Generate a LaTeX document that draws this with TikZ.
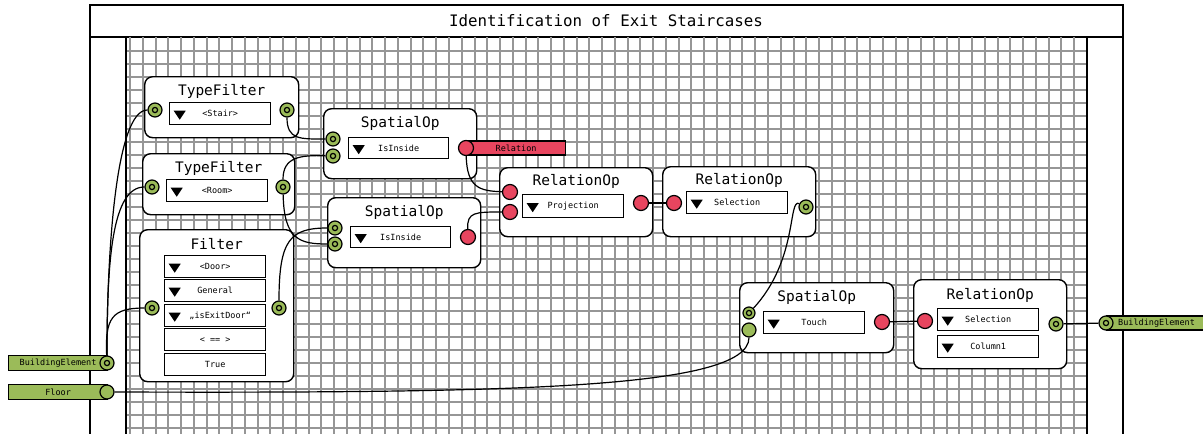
\documentclass[tikz,border=0pt]{standalone}
\usepackage{fontspec}
\setmonofont{DejaVu Sans Mono}
\usetikzlibrary{calc}
\definecolor{portgreen}{RGB}{155,187,89}
\definecolor{portred}{RGB}{232,69,95}
\definecolor{gridgray}{RGB}{150,150,150}
\pgfdeclarelayer{bg}
\pgfdeclarelayer{fg}
\pgfsetlayers{bg,main,fg}

\tikzset{
  opbox/.style={draw, line width=1.4pt, rounded corners=8pt, fill=white,
    anchor=north west, inner sep=0pt},
  optitle/.style={font=\ttfamily\fontsize{14.5}{16}\selectfont, inner sep=0pt},
  smalltext/.style={font=\ttfamily\fontsize{8.5}{10}\selectfont},
  field/.style={draw, line width=1.4pt, fill=white, anchor=north west,
    minimum width=101pt, minimum height=22pt, inner sep=0pt, smalltext},
  choice/.style={field, path picture={
      \fill[black] ([xshift=4pt,yshift=3pt]path picture bounding box.west)
        -- ++(12pt,0pt) -- ++(-6pt,-9pt) -- cycle;}},
  port/.style={circle, draw, line width=1.2pt, inner sep=0pt, minimum size=14pt},
  gport/.style={port, fill=portgreen},
  rport/.style={port, fill=portred, minimum size=15pt},
  ringport/.style={gport, path picture={
      \draw[black, line width=1.2pt] (path picture bounding box.center) circle (2.6pt);}},
  gbar/.style={draw, line width=1.2pt, fill=portgreen, inner sep=0pt, smalltext},
  rbar/.style={draw, line width=1.2pt, fill=portred, inner sep=0pt, smalltext},
  wire/.style={line width=1.2pt},
  gridline/.style={gridgray, line width=2pt},
}

\begin{document}
\begin{tikzpicture}[x=1pt,y=-1pt]
\useasboundingbox (0,0) rectangle (1203,434);

\begin{pgfonlayer}{bg}
  \fill[white] (0,0) rectangle (1203,434);
  % worksheet frame and title bar
  \draw[line width=1.4pt] (90,434) -- (90,5) -- (1123,5) -- (1123,434);
  \draw[line width=1.4pt] (90,37) -- (1123,37);
  \node[font=\ttfamily\fontsize{15.8}{18}\selectfont, inner sep=0pt] (title)
    at (606,21) {Identification of Exit Staircases};
  % canvas grid
  \foreach \k in {0,...,74}
    \draw[gridline] ({130+12.76*\k},37) -- ({130+12.76*\k},434);
  \foreach \j in {0,...,29}
    \draw[gridline] (126,{51.3+13*\j}) -- (1087,{51.3+13*\j});
  \draw[line width=2pt] (126,37) -- (126,434);
  \draw[line width=2pt] (1087,37) -- (1087,434);

  % TypeFilter <Stair>
  \node[opbox, minimum width=154pt, minimum height=61pt] (tf1) at (144,76) {};
  \node[optitle] (tf1t) at ([yshift=-15pt]tf1.north) {TypeFilter};
  \node[choice] (tf1c) at (169,102) {<Stair>};

  % TypeFilter <Room>
  \node[opbox, minimum width=152pt, minimum height=61pt] (tf2) at (142,153) {};
  \node[optitle] (tf2t) at ([yshift=-15pt]tf2.north) {TypeFilter};
  \node[choice] (tf2c) at (166,179) {<Room>};

  % Filter
  \node[opbox, minimum width=154pt, minimum height=152pt] (flt) at (139,229) {};
  \node[optitle] (fltt) at ([yshift=-15pt]flt.north) {Filter};
  \node[choice] (flt1) at (164,255) {<Door>};
  \node[choice] (flt2) at (164,279) {General};
  \node[choice] (flt3) at (164,304) {\hspace{10pt}„isExitDoor“};
  \node[field]  (flt4) at (164,328) {< == >};
  \node[field]  (flt5) at (164,353) {True};

  % SpatialOp IsInside (stairs in rooms)
  \node[opbox, minimum width=153pt, minimum height=70pt] (sp1) at (323,108) {};
  \node[optitle] (sp1t) at ([yshift=-15pt]sp1.north) {SpatialOp};
  \node[choice, minimum width=100pt, minimum height=21pt] (sp1c) at (348,137) {IsInside};

  % SpatialOp IsInside (doors in rooms)
  \node[opbox, minimum width=153pt, minimum height=70pt] (sp2) at (327,197) {};
  \node[optitle] (sp2t) at ([yshift=-15pt]sp2.north) {SpatialOp};
  \node[choice, minimum width=100pt, minimum height=21pt] (sp2c) at (350,226) {IsInside};

  % RelationOp Projection
  \node[opbox, minimum width=153pt, minimum height=69pt] (ro1) at (499,167) {};
  \node[optitle] (ro1t) at ([yshift=-14pt]ro1.north) {RelationOp};
  \node[choice, minimum height=23pt] (ro1c) at (522,194) {Projection};

  % RelationOp Selection
  \node[opbox, minimum width=153pt, minimum height=70pt] (ro2) at (662,166) {};
  \node[optitle] (ro2t) at ([yshift=-14pt]ro2.north) {RelationOp};
  \node[choice] (ro2c) at (686,191) {Selection};

  % SpatialOp Touch
  \node[opbox, minimum width=154pt, minimum height=70pt] (sp3) at (739,282) {};
  \node[optitle] (sp3t) at ([yshift=-15pt]sp3.north) {SpatialOp};
  \node[choice] (sp3c) at (763,311) {Touch};

  % RelationOp Selection / Column1
  \node[opbox, minimum width=153pt, minimum height=89pt] (ro3) at (913,279) {};
  \node[optitle] (ro3t) at ([yshift=-16pt]ro3.north) {RelationOp};
  \node[choice] (ro3c1) at (937,308) {Selection};
  \node[choice] (ro3c2) at (937,335) {Column1};

  % inputs, intermediate relation and output
  \node[gbar, anchor=west, minimum width=99pt, minimum height=15pt] (bebar) at (8,363) {BuildingElement};
  \node[gbar, anchor=west, minimum width=99pt, minimum height=15pt] (flbar) at (8,392) {Floor};
  \node[rbar, anchor=west, minimum width=99pt, minimum height=14pt] (relbar) at (466,148) {Relation};
  \node[gbar, anchor=west, minimum width=110pt, minimum height=14pt] (outbar) at (1106,323) {};
  \node[smalltext, anchor=west, inner sep=0pt] (outtext) at (1118,323) {BuildingElement};
\end{pgfonlayer}

\begin{pgfonlayer}{fg}
  \node[ringport] (bein) at (107,363) {};
  \node[gport]    (flin) at (107,392) {};
  \node[ringport] (tf1in) at (155,110) {};
  \node[ringport] (tf1out) at (287,110) {};
  \node[ringport] (tf2in) at (152,187) {};
  \node[ringport] (tf2out) at (283,187) {};
  \node[ringport] (fltin) at (152,308) {};
  \node[ringport] (fltout) at (279,308) {};
  \node[ringport] (sp1a) at (333,139) {};
  \node[ringport] (sp1b) at (333,156) {};
  \node[rport]    (sp1out) at (466,148) {};
  \node[ringport] (sp2a) at (335,228) {};
  \node[ringport] (sp2b) at (335,244) {};
  \node[rport]    (sp2out) at (468,237) {};
  \node[rport]    (ro1a) at (510,192) {};
  \node[rport]    (ro1b) at (510,212) {};
  \node[rport]    (ro1out) at (641,203) {};
  \node[rport]    (ro2in) at (674,203) {};
  \node[ringport] (ro2out) at (806,207) {};
  \node[ringport, minimum size=12pt] (sp3a) at (749,313) {};
  \node[gport]    (sp3b) at (749,330) {};
  \node[rport]    (sp3out) at (882,322) {};
  \node[rport]    (ro3in) at (925,321) {};
  \node[ringport] (ro3out) at (1056,324) {};
  \node[ringport] (outport) at (1106,323) {};
\end{pgfonlayer}

% connectors
\draw[wire] (bein) .. controls (107,250) and (116,110) .. (tf1in);
\draw[wire] (bein) .. controls (107,260) and (112,187) .. (tf2in);
\draw[wire] (bein) .. controls (105,318) and (112,308) .. (fltin);
\draw[wire] (tf1out) .. controls (287,140) and (300,139) .. (sp1a);
\draw[wire] (tf2out) .. controls (283,157) and (300,155) .. (sp1b);
\draw[wire] (tf2out) .. controls (284,240) and (300,244) .. (sp2b);
\draw[wire] (fltout) .. controls (279,240) and (290,228) .. (sp2a);
\draw[wire] (sp1out) .. controls (467,188) and (480,191) .. (ro1a);
\draw[wire] (sp2out) .. controls (467,212) and (475,212) .. (ro1b);
\draw[wire] (ro1out) -- (ro2in);
\draw[wire] (ro2out) .. controls (788,198) and (798,260) .. (sp3a);
\draw[wire] (flin) .. controls (500,393) and (749,390) .. (sp3b);
\draw[wire] (sp3out) -- (ro3in);
\draw[wire] (ro3out) -- (outport);
\end{tikzpicture}
\end{document}
